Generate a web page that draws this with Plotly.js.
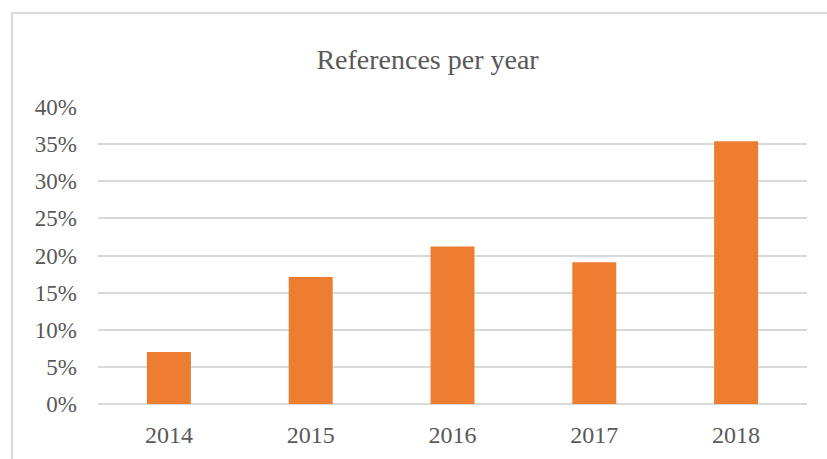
<!DOCTYPE html>
<html>
<head>
<meta charset="utf-8">
<script src="https://cdn.plot.ly/plotly-3.0.1.min.js"></script>
<style>
  html, body { margin: 0; padding: 0; background: #ffffff; overflow: hidden; }
  #wrap { position: relative; width: 827px; height: 459px; }
  #chart { position: absolute; left: 0; top: 0; width: 827px; height: 459px; }
  #frame { position: absolute; left: 11px; top: 12px; width: 830px; height: 460px;
           border-left: 2px solid #d9d9d9; border-top: 2px solid #d9d9d9; pointer-events: none; }
</style>
</head>
<body>
<div id="wrap">
  <div id="chart"></div>
  <div id="frame"></div>
</div>
<script>
const years = ["2014", "2015", "2016", "2017", "2018"];
const shares = [0.070, 0.171, 0.212, 0.191, 0.354];
const yTickVals = [0, 0.05, 0.10, 0.15, 0.20, 0.25, 0.30, 0.35, 0.40];
const yTickText = ["0%", "5%", "10%", "15%", "20%", "25%", "30%", "35%", "40%"];
const titleText = "References per year";

const fontFam = "'Liberation Serif', 'Times New Roman', serif";
const textColor = "#595959";

const trace = {
  type: "bar",
  x: years,
  y: shares,
  marker: { color: "#ED7D31" },
  hoverinfo: "x+y"
};

const layout = {
  width: 827,
  height: 459,
  margin: { l: 98, r: 20, t: 107, b: 55, pad: 0 },
  paper_bgcolor: "rgba(0,0,0,0)",
  plot_bgcolor: "rgba(0,0,0,0)",
  bargap: 0.69,
  showlegend: false,
  title: {
    text: titleText,
    font: { family: fontFam, size: 28, color: textColor },
    x: 0.517,
    xanchor: "center",
    y: 0.871,
    yanchor: "middle"
  },
  xaxis: {
    type: "category",
    showgrid: false,
    zeroline: false,
    showline: false,
    ticks: "",
    ticklabelstandoff: 14,
    tickfont: { family: fontFam, size: 24, color: textColor }
  },
  yaxis: {
    range: [0, 0.4],
    tickvals: yTickVals,
    ticktext: yTickText,
    showgrid: true,
    gridcolor: "#d9d9d9",
    gridwidth: 2,
    zeroline: true,
    zerolinecolor: "#d9d9d9",
    zerolinewidth: 2,
    showline: false,
    ticks: "",
    ticklabelstandoff: 20,
    tickfont: { family: fontFam, size: 23, color: textColor }
  }
};

Plotly.newPlot("chart", [trace], layout, { displayModeBar: false, staticPlot: true });
</script>
</body>
</html>
